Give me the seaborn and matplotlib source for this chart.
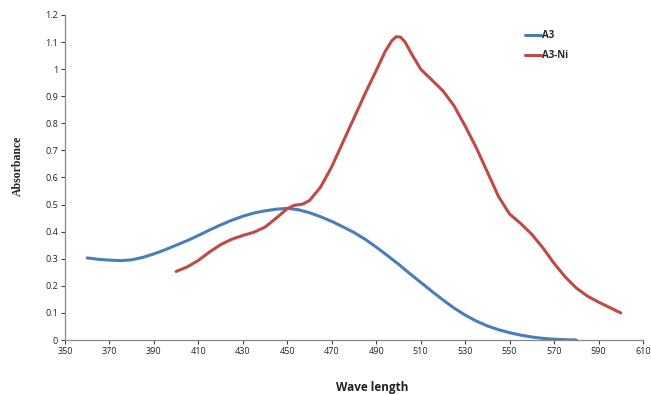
import numpy as np
import pandas as pd
import seaborn as sns
import matplotlib.pyplot as plt

# values
a3_wl = [360, 365, 370, 375, 380, 385, 390, 395, 400, 405, 410, 415, 420, 425,
         430, 435, 440, 445, 450, 455, 460, 465, 470, 475, 480, 485, 490, 495,
         500, 505, 510, 515, 520, 525, 530, 535, 540, 545, 550, 555, 560, 565,
         570, 575, 580]
a3_abs = [0.303, 0.298, 0.295, 0.293, 0.296, 0.305, 0.318, 0.333, 0.35, 0.367,
          0.386, 0.406, 0.425, 0.442, 0.457, 0.469, 0.477, 0.483, 0.486, 0.481,
          0.47, 0.455, 0.438, 0.418, 0.397, 0.372, 0.343, 0.312, 0.28, 0.246,
          0.213, 0.18, 0.148, 0.118, 0.092, 0.07, 0.052, 0.038, 0.027, 0.018,
          0.011, 0.006, 0.003, 0.001, 0.0]

a3ni_wl = [400, 405, 410, 415, 420, 425, 430, 435, 440, 445, 450, 453, 457, 460,
           465, 470, 475, 480, 485, 490, 494, 497, 499, 501, 503, 506, 510, 515,
           520, 525, 530, 535, 540, 545, 550, 555, 560, 565, 570, 575, 580, 585,
           590, 595, 600]
a3ni_abs = [0.253, 0.27, 0.294, 0.325, 0.352, 0.372, 0.386, 0.398, 0.417, 0.45,
            0.485, 0.497, 0.502, 0.515, 0.565, 0.64, 0.73, 0.82, 0.91, 0.995,
            1.065, 1.105, 1.12, 1.118, 1.1, 1.055, 1.0, 0.96, 0.92, 0.865, 0.79,
            0.71, 0.62, 0.53, 0.465, 0.43, 0.39, 0.34, 0.283, 0.233, 0.192,
            0.162, 0.14, 0.12, 0.10]

x_ticks = list(range(350, 611, 20))
y_ticks = [0, 0.1, 0.2, 0.3, 0.4, 0.5, 0.6, 0.7, 0.8, 0.9, 1.0, 1.1, 1.2]
y_labels = ["0", "0.1", "0.2", "0.3", "0.4", "0.5", "0.6", "0.7", "0.8", "0.9",
            "1", "1.1", "1.2"]

df = pd.concat([
    pd.DataFrame({"wl": a3_wl, "abs": a3_abs, "sample": "A3"}),
    pd.DataFrame({"wl": a3ni_wl, "abs": a3ni_abs, "sample": "A3-Ni"}),
])

sns.set_style("white")
plt.rcParams["font.family"] = ["Open Sans", "DejaVu Sans"]

fig = plt.figure(figsize=(6.51, 3.94), dpi=100)
ax = fig.add_axes([65 / 651, 1 - 340 / 394, (643 - 65) / 651, (340 - 15) / 394])

sns.lineplot(data=df, x="wl", y="abs", hue="sample",
             palette={"A3": "#4A7EBB", "A3-Ni": "#BE4B48"},
             linewidth=2.2, ax=ax)
for ln in ax.get_lines():
    ln.set_solid_joinstyle("round")

ax.set_xlim(350, 610)
ax.set_ylim(0, 1.2)
ax.set_xticks(x_ticks)
ax.set_yticks(y_ticks)
ax.set_yticklabels(y_labels)
ax.tick_params(axis="both", labelsize=6.5, colors="#404040", length=3,
               width=0.8, direction="out", bottom=True, left=True, pad=2)
for lab in ax.get_xticklabels() + ax.get_yticklabels():
    lab.set_color("#222222")
for s in ["top", "right"]:
    ax.spines[s].set_visible(False)
for s in ["left", "bottom"]:
    ax.spines[s].set_color("#888888")
    ax.spines[s].set_linewidth(0.9)

ax.set_xlabel("")
ax.set_ylabel("")
fig.text(372 / 651, 1 - 388 / 394, "Wave length", ha="center", va="center",
         fontsize=8.5, fontweight="bold", color="#222222")
fig.text(18 / 651, 1 - 166 / 394, "Absorbance", ha="center", va="center",
         rotation=90, fontsize=8.5, fontweight="bold", color="#222222",
         family="Liberation Serif")

leg = ax.legend(loc="upper left", bbox_to_anchor=(0.78, 0.98), frameon=False,
                fontsize=7, handlelength=1.7, handletextpad=0.1,
                labelspacing=0.9)
for t in leg.get_texts():
    t.set_fontweight("bold")

fig.savefig("out.png", dpi=100)
